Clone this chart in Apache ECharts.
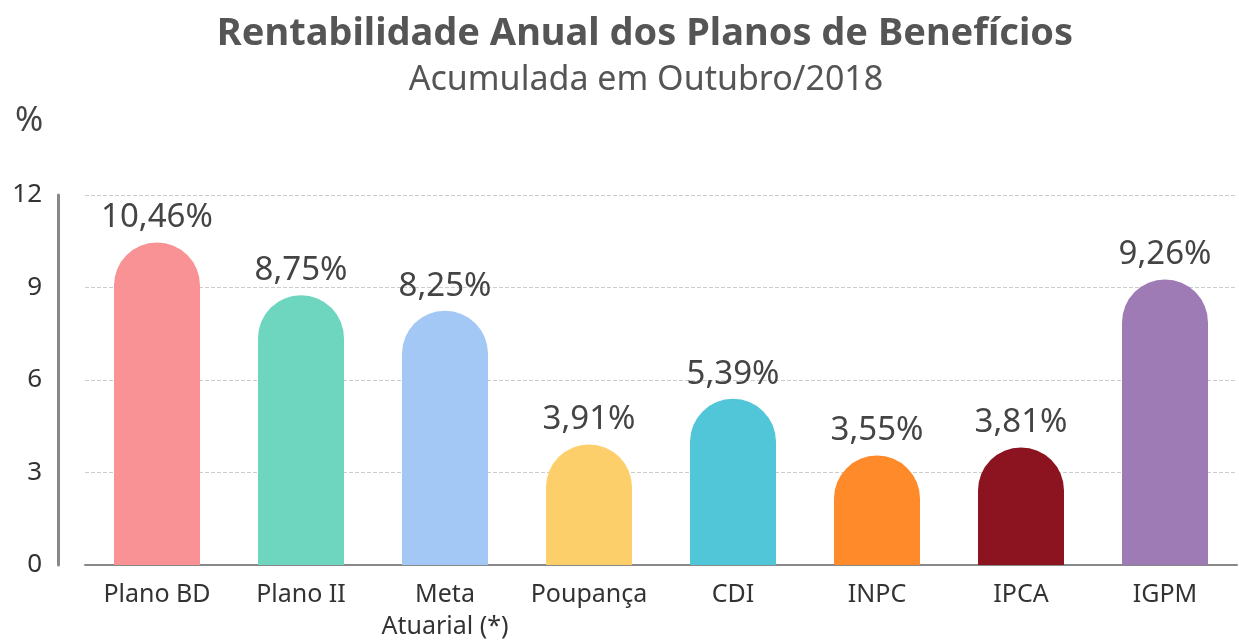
<!DOCTYPE html>
<html>
<head>
<meta charset="utf-8">
<script src="https://cdn.jsdelivr.net/npm/echarts@6/dist/echarts.min.js"></script>
<style>
  html, body { margin: 0; padding: 0; background: #fff; }
  #root { width: 1239px; height: 643px; }
</style>
</head>
<body>
<div id="root"></div>
<script>
// dados
const categorias = ['Plano BD', 'Plano II', 'Meta\nAtuarial (*)', 'Poupança', 'CDI', 'INPC', 'IPCA', 'IGPM'];
const rentabilidade = [10.46, 8.75, 8.25, 3.91, 5.39, 3.55, 3.81, 9.26];
const cores = ['#F89294', '#6ED6BF', '#A3C8F5', '#FDCF6A', '#52C6D9', '#FF8A2A', '#8C1420', '#9E7BB5'];
const ticksY = [0, 3, 6, 9, 12];

let root = document.getElementById('root');
let myChart = echarts.init(root);
const fonte = '"Noto Sans", sans-serif';

let option = {
  animation: false,
  title: [
    {
      text: 'Rentabilidade Anual dos Planos de Benefícios',
      left: 640,
      top: 10,
      textAlign: 'center',
      textStyle: { fontFamily: fonte, fontSize: 38, fontWeight: 'bold', color: '#555' }
    },
    {
      text: 'Acumulada em Outubro/2018',
      left: 641,
      top: 58,
      textAlign: 'center',
      textStyle: { fontFamily: fonte, fontSize: 34, fontWeight: 'normal', color: '#555' }
    }
  ],
  graphic: [
    {
      type: 'text',
      left: 15,
      top: 104,
      style: { text: '%', fontFamily: fonte, fontSize: 34, fill: '#444' }
    }
  ],
  grid: { left: 85, right: 2, top: 195, bottom: 77 },
  xAxis: {
    type: 'category',
    data: categorias,
    axisLine: { lineStyle: { color: '#888', width: 2 } },
    axisTick: { show: false },
    axisLabel: {
      interval: 0,
      fontFamily: fonte, fontSize: 25, color: '#333', margin: 14, lineHeight: 32
    }
  },
  yAxis: {
    type: 'value',
    min: ticksY[0],
    max: ticksY[ticksY.length - 1],
    interval: 3,
    offset: 27,
    axisLine: { show: true, lineStyle: { color: '#888', width: 3 } },
    axisTick: { show: false },
    axisLabel: { fontFamily: fonte, fontSize: 26, color: '#333', margin: 16 },
    splitLine: { lineStyle: { color: '#ccc', type: 'dashed', width: 1 } }
  },
  series: [
    {
      type: 'bar',
      barWidth: 86,
      data: rentabilidade.map((v, i) => ({ value: v, itemStyle: { color: cores[i] } })),
      itemStyle: { borderRadius: [43, 43, 0, 0] },
      label: {
        show: true,
        position: 'top',
        distance: 8,
        fontFamily: fonte,
        fontSize: 33,
        color: '#444',
        formatter: p => p.value.toFixed(2).replace('.', ',') + '%'
      }
    }
  ]
};
myChart.setOption(option);
</script>
</body>
</html>
